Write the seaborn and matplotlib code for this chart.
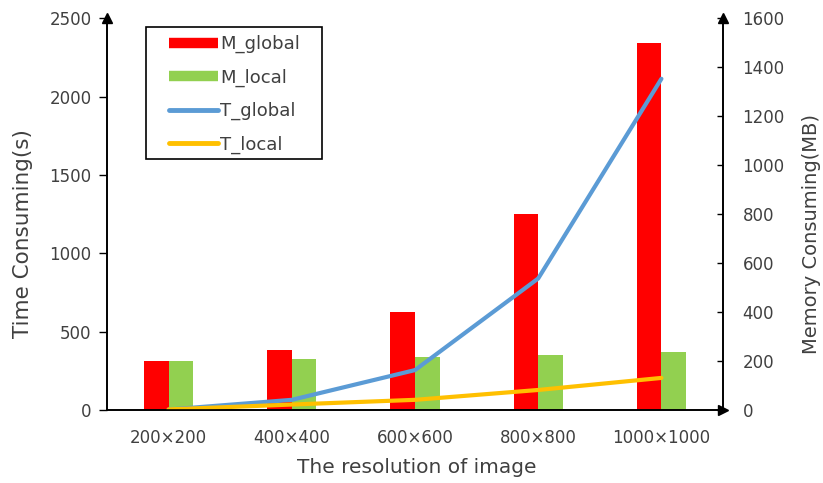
import numpy as np
import pandas as pd
import matplotlib
matplotlib.use("Agg")
import matplotlib.pyplot as plt
from matplotlib.lines import Line2D
from matplotlib.patches import Rectangle
import seaborn as sns

# ---- data ----
resolutions = ["200×200", "400×400", "600×600", "800×800", "1000×1000"]
m_global = [200, 245, 400, 800, 1500]      # MB
m_local = [200, 208, 217, 224, 238]        # MB
t_global = [3, 65, 255, 840, 2115]         # s
t_local = [4, 35, 65, 128, 205]            # s

sns.set_theme(style="white")
plt.rcParams["font.family"] = ["DejaVu Sans"]
text_col = "#404040"

c_mg, c_ml = "#FF0000", "#92D050"
c_tg, c_tl = "#5B9BD5", "#FFC000"

mem = pd.DataFrame({
    "res": resolutions * 2,
    "MB": m_global + m_local,
    "series": ["M_global"] * 5 + ["M_local"] * 5,
})
tim = pd.DataFrame({
    "pos": list(range(len(resolutions))) * 2,
    "s": t_global + t_local,
    "series": ["T_global"] * 5 + ["T_local"] * 5,
})

W, H = 823, 483
fig = plt.figure(figsize=(W / 100, H / 100), dpi=100)
ax = fig.add_axes([0.130, 0.1511, 0.7485, 0.8106])

# memory bars
sns.barplot(data=mem, x="res", y="MB", hue="series", order=resolutions,
            palette=[c_mg, c_ml], width=0.4, saturation=1, linewidth=0,
            ax=ax, legend=False)

# time lines on a twin axis (drawn above the bars)
axt = ax.twinx()
sns.lineplot(data=tim, x="pos", y="s", hue="series", palette=[c_tg, c_tl],
             linewidth=3, ax=axt, legend=False)
for ln in axt.lines:
    ln.set_solid_capstyle("round")
    ln.set_solid_joinstyle("round")

# memory scale on the right
ax.set_ylim(0, 1600)
ax.set_xlim(-0.5, len(resolutions) - 0.5)
ax.yaxis.tick_right()
ax.yaxis.set_label_position("right")
ax.set_yticks(np.arange(0, 1601, 200))
ax.set_ylabel("Memory Consuming(MB)", fontsize=14, color=text_col)
ax.yaxis.label.set_va("center")
ax.yaxis.set_label_coords(1.143, 0.45)
ax.set_xlabel("The resolution of image", fontsize=14.5, color=text_col)
ax.xaxis.label.set_va("center")
ax.xaxis.set_label_coords(0.503, -0.148)
ax.tick_params(axis="y", direction="in", length=4, width=1, color="black",
               labelsize=12, labelcolor=text_col, pad=14, right=True, left=False)
ax.tick_params(axis="x", length=0, labelsize=12, labelcolor=text_col, pad=14)

# time scale on the left
axt.set_ylim(0, 2500)
axt.set_xlim(-0.5, len(resolutions) - 0.5)
axt.yaxis.tick_left()
axt.yaxis.set_label_position("left")
axt.set_yticks(np.arange(0, 2501, 500))
axt.set_ylabel("Time Consuming(s)", fontsize=15.5, color=text_col)
axt.yaxis.label.set_va("center")
axt.yaxis.set_label_coords(-0.136, 0.45)
axt.tick_params(axis="y", direction="out", length=6, width=1, color="black",
                labelsize=12, labelcolor=text_col, pad=5, left=True, right=False)

for a in (ax, axt):
    a.spines["top"].set_visible(False)
    for s in ("left", "right", "bottom"):
        a.spines[s].set_color("black")
        a.spines[s].set_linewidth(1.2)
    a.grid(False)

# arrow heads at the ends of the axes
for x, y, mk in ((0, 1, "^"), (1, 1, "^"), (1, 0, ">")):
    axt.plot(x, y, marker=mk, color="black", markersize=7.5,
             transform=axt.transAxes, clip_on=False)

# legend box and combined legend
fig.patches.append(Rectangle((146 / W, 1 - 159 / H), 176 / W, 132 / H,
                             transform=fig.transFigure, facecolor="white",
                             edgecolor="black", linewidth=1.2, zorder=4))
handles = [
    Line2D([], [], color=c_mg, lw=7.5, solid_capstyle="butt"),
    Line2D([], [], color=c_ml, lw=7.5, solid_capstyle="butt"),
    Line2D([], [], color=c_tg, lw=3.5, solid_capstyle="round"),
    Line2D([], [], color=c_tl, lw=3.5, solid_capstyle="round"),
]
labels = ["M_global", "M_local", "T_global", "T_local"]
leg = fig.legend(handles, labels, loc="upper left",
                 bbox_to_anchor=(169 / W, 1 - 35 / H), borderaxespad=0,
                 fontsize=13, frameon=False, borderpad=0,
                 handlelength=2.7, handletextpad=0.15, labelspacing=0.84)
leg.set_zorder(5)
for t in leg.get_texts():
    t.set_color(text_col)

fig.savefig("out.png", dpi=100)
